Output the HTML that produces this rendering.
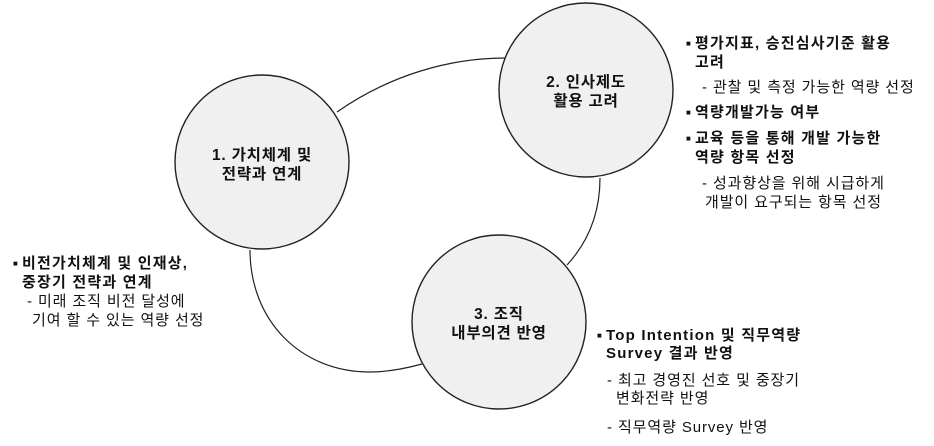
<!DOCTYPE html>
<html><head><meta charset="utf-8"><style>
html,body{margin:0;padding:0;background:#fff;}
svg{display:block;}
text{font-family:"Liberation Sans","Noto Sans CJK KR",sans-serif;font-size:15px;letter-spacing:0.9px;fill:#111;}
.b{font-weight:bold;letter-spacing:1.2px;}
.c{font-weight:bold;text-anchor:middle;font-size:15.5px;letter-spacing:0.8px;}
.q{font-size:8px;letter-spacing:0;}
</style></head><body>
<svg width="934" height="446" viewBox="0 0 934 446" xmlns="http://www.w3.org/2000/svg">
<g fill="none" stroke="#222" stroke-width="1.2">
<path d="M337,112 C390,75 450,58 505,58"/>
<path d="M600,178 C600,210 590,240 567,265"/>
<path d="M422,364 C400,370 385,372 370,372 C300,372 250,320 250,250"/>
</g>
<g fill="#f0f0f0" stroke="#222" stroke-width="1.4">
<circle cx="262" cy="162" r="87"/>
<circle cx="586" cy="90" r="87"/>
<circle cx="499" cy="322" r="87"/>
</g>
<text class="c" x="262" y="160">1. 가치체계 및</text>
<text class="c" x="262" y="179">전략과 연계</text>
<text class="c" x="586" y="87">2. 인사제도</text>
<text class="c" x="586" y="106">활용 고려</text>
<text class="c" x="499" y="319">3. 조직</text>
<text class="c" x="499" y="338">내부의견 반영</text>

<text class="b q" x="13" y="266">■</text><text class="b" x="22" y="268">비전가치체계 및 인재상,</text>
<text class="b" x="22" y="287">중장기 전략과 연계</text>
<text x="27" y="306">- 미래 조직 비전 달성에</text>
<text x="32" y="325">기여 할 수 있는 역량 선정</text>

<text class="b q" x="686" y="46">■</text><text class="b" x="695" y="48">평가지표, 승진심사기준 활용</text>
<text class="b" x="695" y="67">고려</text>
<text x="702" y="92">- 관찰 및 측정 가능한 역량 선정</text>
<text class="b q" x="686" y="115">■</text><text class="b" x="695" y="117">역량개발가능 여부</text>
<text class="b q" x="686" y="141">■</text><text class="b" x="695" y="143">교육 등을 통해 개발 가능한</text>
<text class="b" x="695" y="162">역량 항목 선정</text>
<text x="702" y="188">- 성과향상을 위해 시급하게</text>
<text x="705" y="207">개발이 요구되는 항목 선정</text>

<text class="b q" x="597" y="338">■</text><text class="b" x="606" y="340">Top Intention 및 직무역량</text>
<text class="b" x="606" y="358">Survey 결과 반영</text>
<text x="607" y="385">- 최고 경영진 선호 및 중장기</text>
<text x="616" y="403">변화전략 반영</text>
<text x="607" y="432">- 직무역량 Survey 반영</text>
</svg>
</body></html>
